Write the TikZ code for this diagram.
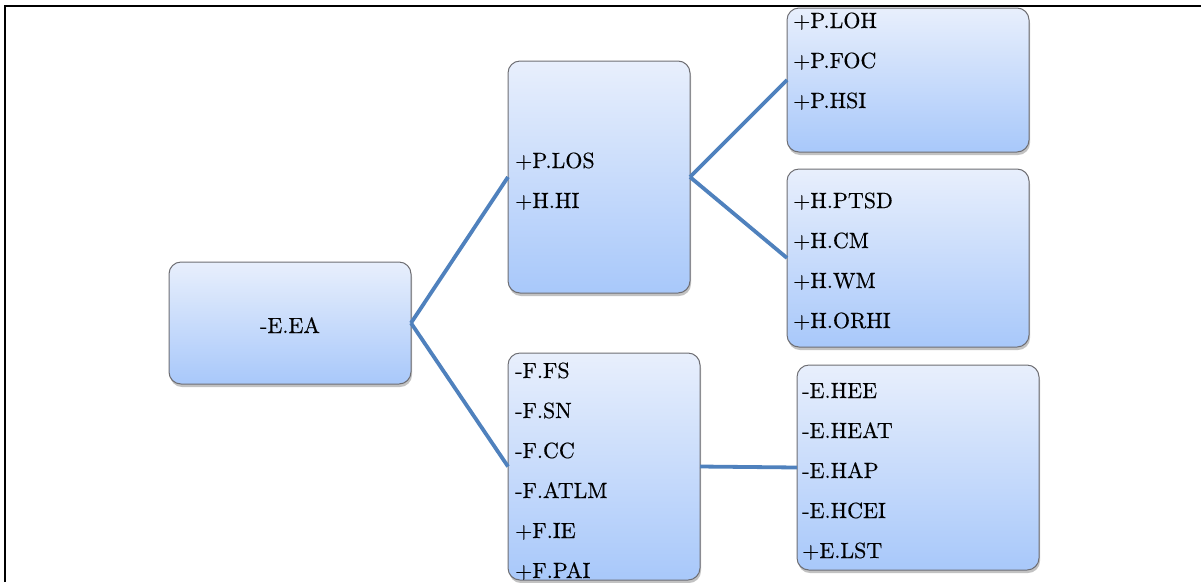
\documentclass[tikz,border=0pt]{standalone}
\usepackage{fontspec}
\newfontfamily\boxfont{lmroman10-regular.otf}[FakeBold=0.4]
\usetikzlibrary{shadows}
\definecolor{linkblue}{RGB}{79,129,189}
\definecolor{boxtop}{RGB}{232,239,252}
\definecolor{boxbot}{RGB}{168,200,250}
\definecolor{boxedge}{RGB}{110,110,115}
\begin{document}
\begin{tikzpicture}[x=1pt,y=-1pt,
  box/.style={draw=boxedge, line width=1pt, rounded corners=12pt, top color=boxtop, bottom color=boxbot,
    inner sep=0pt, outer sep=0pt,
    drop shadow={shadow xshift=1pt, shadow yshift=-3pt, opacity=0.4, fill=black!60}},
  lbl/.style={anchor=base west, inner sep=0pt, font=\boxfont\fontsize{22}{26}\selectfont},
  link/.style={draw=linkblue, line width=3.8pt}]
\useasboundingbox (0,0) rectangle (1201,582);
\draw[line width=2pt] (5,582) -- (5,6) -- (1201,6);
% boxes
\node[box, minimum width=242pt, minimum height=122pt] (b1) at (290,323) {};
\node[box, minimum width=182pt, minimum height=232pt] (b2) at (599,177) {};
\node[box, minimum width=192pt, minimum height=227pt] (b3) at (604,466.5) {};
\node[box, minimum width=242pt, minimum height=144pt] (b4) at (908,80) {};
\node[box, minimum width=242pt, minimum height=178pt] (b5) at (908,258) {};
\node[box, minimum width=242pt, minimum height=205pt] (b6) at (918,467.5) {};
% connectors
\draw[link] (b1.east) -- (b2.west);
\draw[link] (b1.east) -- (b3.west);
\draw[link] (b2.east) -- (b4.west);
\draw[link] (b2.east) -- (b5.west);
\draw[link] (b3.east) -- (b6.west);
% texts
\node[lbl, anchor=base] (t1) at (290,333) {-E.EA};
\node[lbl] (t21) at (515,168) {+P.LOS};
\node[lbl] (t22) at (515,208) {+H.HI};
\node[lbl] (t31) at (515,378) {-F.FS};
\node[lbl] (t32) at (515,418) {-F.SN};
\node[lbl] (t33) at (515,458) {-F.CC};
\node[lbl] (t34) at (515,498) {-F.ATLM};
\node[lbl] (t35) at (515,538) {+F.IE};
\node[lbl] (t36) at (515,578) {+F.PAI};
\node[lbl] (t41) at (793,28) {+P.LOH};
\node[lbl] (t42) at (793,68) {+P.FOC};
\node[lbl] (t43) at (793,108) {+P.HSI};
\node[lbl] (t51) at (793,208) {+H.PTSD};
\node[lbl] (t52) at (793,248) {+H.CM};
\node[lbl] (t53) at (793,288) {+H.WM};
\node[lbl] (t54) at (793,328) {+H.ORHI};
\node[lbl] (t61) at (802,398) {-E.HEE};
\node[lbl] (t62) at (802,438) {-E.HEAT};
\node[lbl] (t63) at (802,478) {-E.HAP};
\node[lbl] (t64) at (802,518) {-E.HCEI};
\node[lbl] (t65) at (802,558) {+E.LST};
\end{tikzpicture}
\end{document}
